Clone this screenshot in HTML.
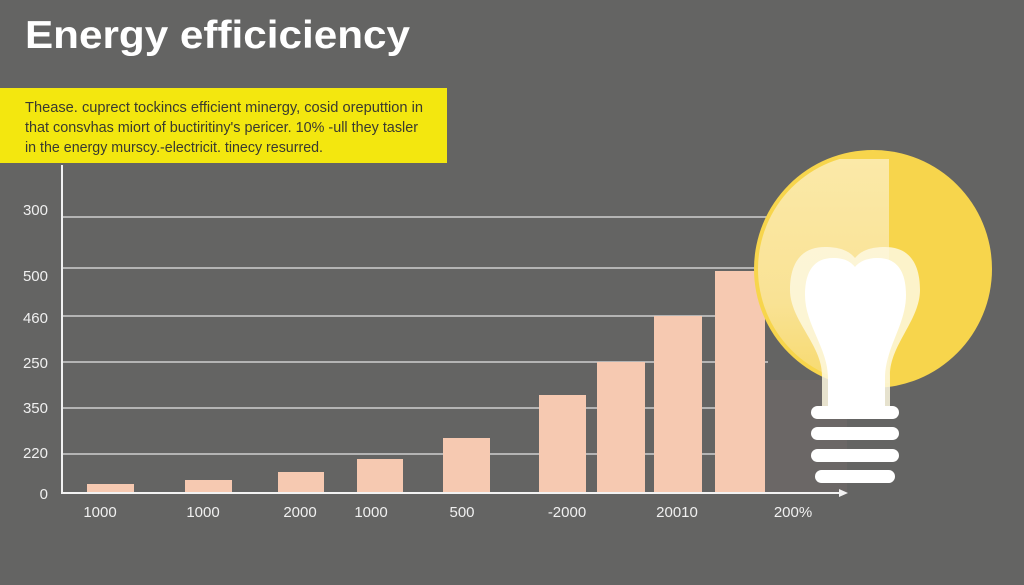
<!DOCTYPE html>
<html><head><meta charset="utf-8"><style>
html,body{margin:0;padding:0;background:#646463;}
svg{display:block;}
</style></head><body>
<svg width="1024" height="585" viewBox="0 0 1024 585" xmlns="http://www.w3.org/2000/svg">
<defs>
<clipPath id="c"><circle cx="873" cy="269" r="119"/></clipPath>
<clipPath id="ci"><circle cx="873" cy="269" r="115"/></clipPath>
<linearGradient id="lg" x1="0" y1="0" x2="0" y2="1">
<stop offset="0" stop-color="#fbe9a8"/><stop offset="0.6" stop-color="#f9e294"/><stop offset="1" stop-color="#f6d866"/>
</linearGradient>
</defs>
<rect width="1024" height="585" fill="#646463"/>
<text x="25" y="48" font-family="Liberation Sans, sans-serif" font-weight="bold" font-size="39" fill="#ffffff" textLength="385" lengthAdjust="spacingAndGlyphs">Energy efficiciency</text>
<rect x="0" y="88" width="447" height="75" fill="#f3e70f"/>
<g font-family="Liberation Sans, sans-serif" font-size="14.5" fill="#3a3a30">
<text x="25" y="112" textLength="398" lengthAdjust="spacingAndGlyphs">Thease. cuprect tockincs efficient minergy, cosid oreputtion in</text>
<text x="25" y="132" textLength="393" lengthAdjust="spacingAndGlyphs">that consvhas miort of buctiritiny's pericer. 10% -ull they tasler</text>
<text x="25" y="152" textLength="298" lengthAdjust="spacingAndGlyphs">in the energy murscy.-electricit. tinecy resurred.</text>
</g>
<!-- gridlines -->
<g stroke="#cfcfcf" stroke-width="1.5">
<line x1="63" y1="217" x2="768" y2="217"/>
<line x1="63" y1="268" x2="768" y2="268"/>
<line x1="63" y1="316" x2="768" y2="316"/>
<line x1="63" y1="362" x2="768" y2="362"/>
<line x1="63" y1="408" x2="768" y2="408"/>
<line x1="63" y1="454" x2="768" y2="454"/>
</g>
<!-- faint strip behind bulb base -->
<rect x="765" y="380" width="82" height="113" fill="#6b6766"/>
<!-- bars -->
<g fill="#f6c9b1">
<rect x="87" y="484" width="47" height="9"/>
<rect x="185" y="480" width="47" height="13"/>
<rect x="278" y="472" width="46" height="21"/>
<rect x="357" y="459" width="46" height="34"/>
<rect x="443" y="438" width="47" height="55"/>
<rect x="539" y="395" width="47" height="98"/>
<rect x="597" y="362" width="48" height="131"/>
<rect x="654" y="316" width="48" height="177"/>
<rect x="715" y="271" width="50" height="222"/>
</g>
<!-- axes -->
<line x1="62" y1="165" x2="62" y2="494" stroke="#f2f2f2" stroke-width="2"/>
<line x1="61" y1="493" x2="842" y2="493" stroke="#f2f2f2" stroke-width="2"/>
<polygon points="848,493 839,489 839,497" fill="#f2f2f2"/>
<!-- y labels -->
<g font-family="Liberation Sans, sans-serif" font-size="15" fill="#f0f0f0" text-anchor="end">
<text x="48" y="215">300</text>
<text x="48" y="281">500</text>
<text x="48" y="323">460</text>
<text x="48" y="368">250</text>
<text x="48" y="413">350</text>
<text x="48" y="458">220</text>
<text x="48" y="499">0</text>
</g>
<g font-family="Liberation Sans, sans-serif" font-size="15" fill="#f0f0f0" text-anchor="middle">
<text x="100" y="517">1000</text>
<text x="203" y="517">1000</text>
<text x="300" y="517">2000</text>
<text x="371" y="517">1000</text>
<text x="462" y="517">500</text>
<text x="567" y="517">-2000</text>
<text x="677" y="517">20010</text>
<text x="793" y="517">200%</text>
</g>
<!-- bulb -->
<circle cx="873" cy="269" r="119" fill="#f7d54c"/>
<g clip-path="url(#ci)">
<rect x="750" y="159" width="139" height="240" fill="url(#lg)"/>
</g>
<path d="M822,410 L822,375 C822,345 790,320 790,290 C790,262 802,247 825,247 C842,247 850,252 855,258 C860,252 868,247 885,247 C908,247 920,262 920,290 C920,320 890,345 890,375 L890,410 Z" fill="#fdf8e0" opacity="0.85"/>
<path d="M828,410 L828,378 C828,348 805,325 805,295 C805,270 815,258 833,258 C845,258 851,262 855,267 C859,262 866,258 878,258 C896,258 906,270 906,295 C906,325 885,348 885,378 L885,410 Z" fill="#ffffff"/>
<g fill="#ffffff">
<rect x="811" y="406" width="88" height="13" rx="6.5"/>
<rect x="811" y="427" width="88" height="13" rx="6.5"/>
<rect x="811" y="449" width="88" height="13" rx="6.5"/>
<rect x="815" y="470" width="80" height="13" rx="6.5"/>
</g>
</svg>
</body></html>
